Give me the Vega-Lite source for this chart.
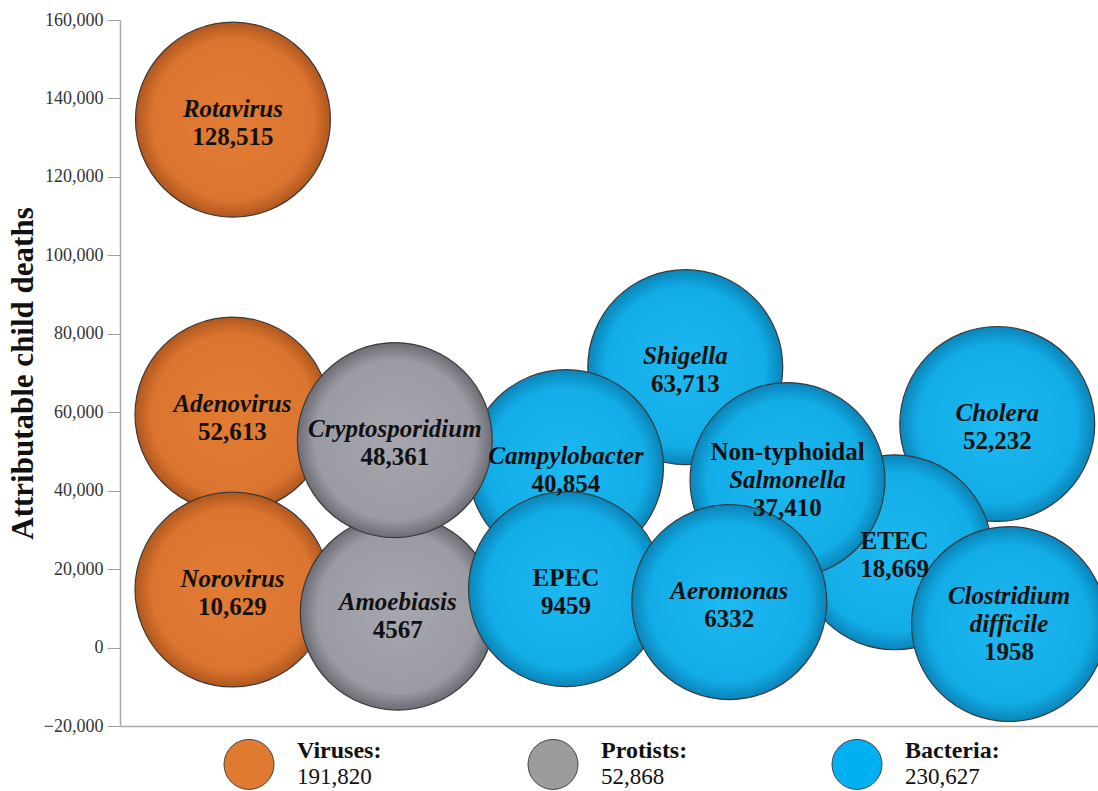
{
  "$schema": "https://vega.github.io/schema/vega-lite/v6.json",
  "width": 978,
  "height": 706,
  "autosize": {"type": "none"},
  "padding": {"left": 120, "top": 20, "right": 0, "bottom": 65},
  "background": "white",
  "config": {"view": {"stroke": null}, "font": "Liberation Serif"},
  "datasets": {
    "bubbles": [
      {"name": "Rotavirus", "group": "Viruses", "deaths": 128515, "x": 11.55, "y": 134600, "lines": 2, "top": "Rotavirus", "topIt": true, "mid": null, "num": "128,515"},
      {"name": "Adenovirus", "group": "Viruses", "deaths": 52613, "x": 11.5, "y": 59400, "lines": 2, "top": "Adenovirus", "topIt": true, "mid": null, "num": "52,613"},
      {"name": "Norovirus", "group": "Viruses", "deaths": 10629, "x": 11.5, "y": 14800, "lines": 2, "top": "Norovirus", "topIt": true, "mid": null, "num": "10,629"},
      {"name": "Amoebiasis", "group": "Protists", "deaths": 4567, "x": 28.4, "y": 8900, "lines": 2, "top": "Amoebiasis", "topIt": true, "mid": null, "num": "4567"},
      {"name": "Shigella", "group": "Bacteria", "deaths": 63713, "x": 57.8, "y": 71500, "lines": 2, "top": "Shigella", "topIt": true, "mid": null, "num": "63,713"},
      {"name": "Campylobacter", "group": "Bacteria", "deaths": 40854, "x": 45.6, "y": 46000, "lines": 2, "top": "Campylobacter", "topIt": true, "mid": null, "num": "40,854"},
      {"name": "Cryptosporidium", "group": "Protists", "deaths": 48361, "x": 28.1, "y": 52900, "lines": 2, "top": "Cryptosporidium", "topIt": true, "mid": null, "num": "48,361"},
      {"name": "EPEC", "group": "Bacteria", "deaths": 9459, "x": 45.6, "y": 14900, "lines": 2, "top": "EPEC", "topIt": false, "mid": null, "num": "9459"},
      {"name": "Cholera", "group": "Bacteria", "deaths": 52232, "x": 89.7, "y": 57000, "lines": 2, "top": "Cholera", "topIt": true, "mid": null, "num": "52,232"},
      {"name": "ETEC", "group": "Bacteria", "deaths": 18669, "x": 79.2, "y": 24300, "lines": 2, "top": "ETEC", "topIt": false, "mid": null, "num": "18,669"},
      {"name": "Non-typhoidal Salmonella", "group": "Bacteria", "deaths": 37410, "x": 68.25, "y": 42700, "lines": 3, "top": "Non-typhoidal", "topIt": false, "mid": "Salmonella", "num": "37,410"},
      {"name": "Aeromonas", "group": "Bacteria", "deaths": 6332, "x": 62.3, "y": 11600, "lines": 2, "top": "Aeromonas", "topIt": true, "mid": null, "num": "6332"},
      {"name": "Clostridium difficile", "group": "Bacteria", "deaths": 1958, "x": 90.9, "y": 6000, "lines": 3, "top": "Clostridium", "topIt": true, "mid": "difficile", "num": "1958"}
    ],
    "legend": [
      {"group": "Viruses", "label": "Viruses:", "total": 191820},
      {"group": "Protists", "label": "Protists:", "total": 52868},
      {"group": "Bacteria", "label": "Bacteria:", "total": 230627}
    ]
  },
  "resolve": {"scale": {"x": "independent"}},
  "layer": [
    {
      "data": {"name": "bubbles"},
      "encoding": {
        "x": {"field": "x", "type": "quantitative", "scale": {"domain": [0, 100], "nice": false, "zero": false},
              "axis": {"labels": false, "ticks": false, "title": null, "grid": false, "domainColor": "#aaaaaa", "domainWidth": 1.5}},
        "y": {"field": "y", "type": "quantitative", "scale": {"domain": [-20000, 160000], "nice": false, "zero": false},
              "axis": {"title": "Attributable child deaths", "values": [-20000, 0, 20000, 40000, 60000, 80000, 100000, 120000, 140000, 160000],
                       "format": ",d", "grid": false, "tickSize": 13, "tickColor": "#a0a0a0", "domainColor": "#aaaaaa", "domainWidth": 1.5,
                       "labelFont": "Liberation Serif", "labelFontSize": 18, "labelColor": "#333333", "labelPadding": 4,
                       "titleFont": "Liberation Serif", "titleFontSize": 31, "titleFontWeight": "bold", "titleColor": "#111111", "titlePadding": 4}}
      },
      "layer": [
        {
          "mark": {"type": "point", "shape": "circle", "filled": true, "size": 38000, "stroke": "#3a3a3a", "strokeWidth": 1.2, "opacity": 1},
          "encoding": {
            "fill": {
              "condition": [
                {"test": "datum.group === 'Viruses'", "value": {"gradient": "radial", "stops": [{"offset": 0, "color": "#E27C33"}, {"offset": 0.82, "color": "#DC7530"}, {"offset": 1, "color": "#B0571E"}]}},
                {"test": "datum.group === 'Protists'", "value": {"gradient": "radial", "stops": [{"offset": 0, "color": "#A6A6AE"}, {"offset": 0.82, "color": "#9B9BA3"}, {"offset": 1, "color": "#6C6C74"}]}}
              ],
              "value": {"gradient": "radial", "stops": [{"offset": 0, "color": "#1DB9F1"}, {"offset": 0.82, "color": "#12ACE6"}, {"offset": 1, "color": "#0A84B8"}]}
            }
          }
        },
        {
          "transform": [{"filter": "datum.lines == 2 && datum.topIt"}],
          "mark": {"type": "text", "font": "Liberation Serif", "fontSize": 25, "fontWeight": "bold", "fontStyle": "italic", "baseline": "middle", "align": "center", "dy": -11, "color": "#111111"},
          "encoding": {"text": {"field": "top", "type": "nominal"}}
        },
        {
          "transform": [{"filter": "datum.lines == 2 && !datum.topIt"}],
          "mark": {"type": "text", "font": "Liberation Serif", "fontSize": 25, "fontWeight": "bold", "baseline": "middle", "align": "center", "dy": -11, "color": "#111111"},
          "encoding": {"text": {"field": "top", "type": "nominal"}}
        },
        {
          "transform": [{"filter": "datum.lines == 2"}],
          "mark": {"type": "text", "font": "Liberation Serif", "fontSize": 25, "fontWeight": "bold", "baseline": "middle", "align": "center", "dy": 17, "color": "#111111"},
          "encoding": {"text": {"field": "num", "type": "nominal"}}
        },
        {
          "transform": [{"filter": "datum.lines == 3 && datum.topIt"}],
          "mark": {"type": "text", "font": "Liberation Serif", "fontSize": 25, "fontWeight": "bold", "fontStyle": "italic", "baseline": "middle", "align": "center", "dy": -28, "color": "#111111"},
          "encoding": {"text": {"field": "top", "type": "nominal"}}
        },
        {
          "transform": [{"filter": "datum.lines == 3 && !datum.topIt"}],
          "mark": {"type": "text", "font": "Liberation Serif", "fontSize": 25, "fontWeight": "bold", "baseline": "middle", "align": "center", "dy": -28, "color": "#111111"},
          "encoding": {"text": {"field": "top", "type": "nominal"}}
        },
        {
          "transform": [{"filter": "datum.lines == 3"}],
          "mark": {"type": "text", "font": "Liberation Serif", "fontSize": 25, "fontWeight": "bold", "fontStyle": "italic", "baseline": "middle", "align": "center", "dy": 0, "color": "#111111"},
          "encoding": {"text": {"field": "mid", "type": "nominal"}}
        },
        {
          "transform": [{"filter": "datum.lines == 3"}],
          "mark": {"type": "text", "font": "Liberation Serif", "fontSize": 25, "fontWeight": "bold", "baseline": "middle", "align": "center", "dy": 28, "color": "#111111"},
          "encoding": {"text": {"field": "num", "type": "nominal"}}
        }
      ]
    },
    {
      "data": {"name": "legend"},
      "encoding": {
        "x": {"field": "group", "type": "nominal", "scale": {"type": "point", "domain": ["Viruses", "Protists", "Bacteria"], "range": [129, 737], "padding": 0}, "axis": null},
        "y": {"datum": -29800, "type": "quantitative",
              "axis": {"title": "Attributable child deaths", "values": [-20000, 0, 20000, 40000, 60000, 80000, 100000, 120000, 140000, 160000],
                       "format": ",d", "grid": false, "tickSize": 13, "tickColor": "#a0a0a0", "domainColor": "#aaaaaa", "domainWidth": 1.5,
                       "labelFont": "Liberation Serif", "labelFontSize": 18, "labelColor": "#333333", "labelPadding": 4,
                       "titleFont": "Liberation Serif", "titleFontSize": 31, "titleFontWeight": "bold", "titleColor": "#111111", "titlePadding": 4}}
      },
      "layer": [
        {
          "mark": {"type": "point", "shape": "circle", "filled": true, "size": 2500, "stroke": "#444444", "strokeWidth": 1, "opacity": 1},
          "encoding": {
            "fill": {"field": "group", "type": "nominal", "scale": {"domain": ["Viruses", "Protists", "Bacteria"], "range": ["#DF7A30", "#9C9C9C", "#00B0F0"]}, "legend": null}
          }
        },
        {
          "mark": {"type": "text", "font": "Liberation Serif", "fontSize": 24, "fontWeight": "bold", "align": "left", "baseline": "middle", "dx": 48, "dy": -13, "color": "#111111"},
          "encoding": {"text": {"field": "label", "type": "nominal"}}
        },
        {
          "mark": {"type": "text", "font": "Liberation Serif", "fontSize": 23, "align": "left", "baseline": "middle", "dx": 48, "dy": 13, "color": "#111111"},
          "encoding": {"text": {"field": "total", "type": "quantitative", "format": ","}}
        }
      ]
    }
  ]
}
